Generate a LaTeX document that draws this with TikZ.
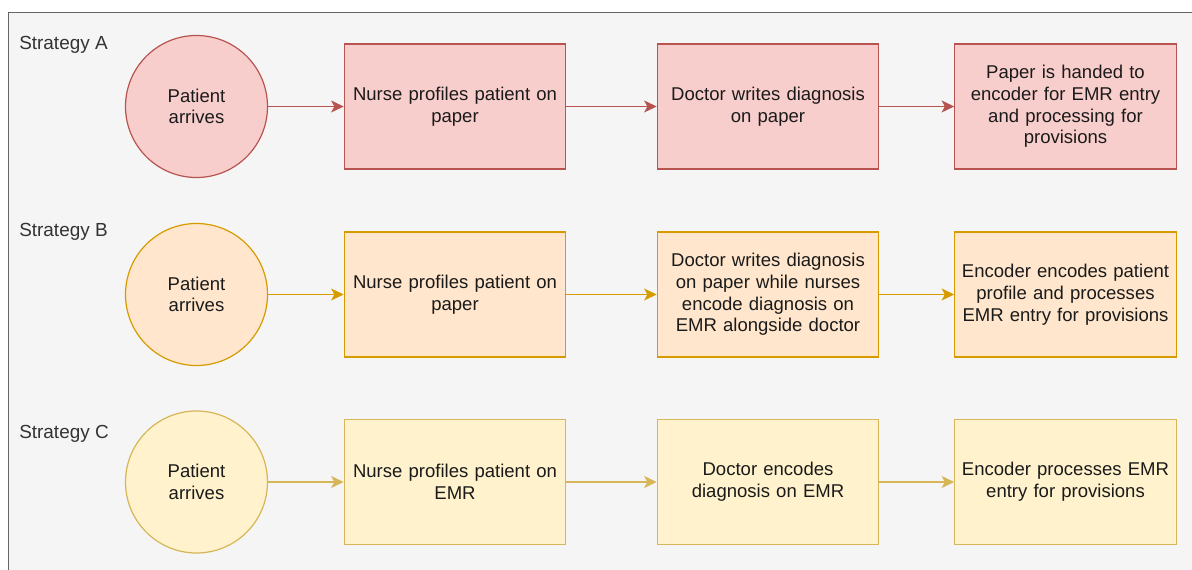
\documentclass[tikz,border=0pt]{standalone}
\usepackage{fontspec}
\setmainfont{Liberation Sans}
\usetikzlibrary{arrows.meta}
\definecolor{bgcol}{HTML}{F5F5F5}
\definecolor{framecol}{HTML}{666666}
\definecolor{redfill}{HTML}{F8CECC}
\definecolor{redline}{HTML}{B85450}
\definecolor{orfill}{HTML}{FFE6CC}
\definecolor{orline}{HTML}{D79B00}
\definecolor{yefill}{HTML}{FFF2CC}
\definecolor{yeline}{HTML}{D6B656}
\definecolor{labcol}{HTML}{333333}
\definecolor{txtcol}{HTML}{1A1A1A}
\tikzset{
  base/.style={font=\fontsize{13.9}{16.3}\selectfont, text=txtcol, align=center, line width=0.9pt, inner sep=2pt},
  circ/.style={base, circle, minimum size=106.5pt},
  stepbox/.style={base, rectangle, minimum width=165pt, minimum height=93.75pt, text width=162pt},
  redst/.style={fill=redfill, draw=redline},
  orst/.style={fill=orfill, draw=orline},
  yest/.style={fill=yefill, draw=yeline},
  conn/.style={line width=0.9pt, -{Stealth[length=9.5pt,width=9pt,inset=2.5pt]}},
  stratlabel/.style={font=\fontsize{14.2}{16.3}\selectfont, text=labcol, anchor=west, inner sep=0pt},
}
\begin{document}
\begin{tikzpicture}[x=0.75pt, y=-0.75pt]
\clip (0,0) rectangle (1192,570);
\draw[framecol, fill=bgcol, line width=0.9pt] (8.5,12.5) rectangle (1215,595);

\node[stratlabel] (la) at (19,44.5) {Strategy A};
\node[stratlabel] (lb) at (19,231.5) {Strategy B};
\node[stratlabel] (lc) at (19,433.5) {Strategy C};

% Row A
\node[circ, redst] (a0) at (196.5,106.5) {Patient\\arrives};
\node[stepbox, redst] (a1) at (455,106.5) {Nurse profiles patient on\\paper};
\node[stepbox, redst] (a2) at (768,106.5) {Doctor writes diagnosis\\on paper};
\node[stepbox, redst] (a3) at (1065.5,106.5) {Paper is handed to\\encoder for EMR entry\\and processing for\\provisions};
\draw[conn, redline] (a0) -- (a1);
\draw[conn, redline] (a1) -- (a2);
\draw[conn, redline] (a2) -- (a3);

% Row B
\node[circ, orst] (b0) at (196.5,294.5) {Patient\\arrives};
\node[stepbox, orst] (b1) at (455,294.5) {Nurse profiles patient on\\paper};
\node[stepbox, orst] (b2) at (768,294.5) {Doctor writes diagnosis\\on paper while nurses\\encode diagnosis on\\EMR alongside doctor};
\node[stepbox, orst] (b3) at (1065.5,294.5) {Encoder encodes patient\\profile and processes\\EMR entry for provisions};
\draw[conn, orline] (b0) -- (b1);
\draw[conn, orline] (b1) -- (b2);
\draw[conn, orline] (b2) -- (b3);

% Row C
\node[circ, yest] (c0) at (196.5,482) {Patient\\arrives};
\node[stepbox, yest] (c1) at (455,482) {Nurse profiles patient on\\EMR};
\node[stepbox, yest] (c2) at (768,482) {Doctor encodes\\diagnosis on EMR};
\node[stepbox, yest] (c3) at (1065.5,482) {Encoder processes EMR\\entry for provisions};
\draw[conn, yeline] (c0) -- (c1);
\draw[conn, yeline] (c1) -- (c2);
\draw[conn, yeline] (c2) -- (c3);
\end{tikzpicture}
\end{document}
